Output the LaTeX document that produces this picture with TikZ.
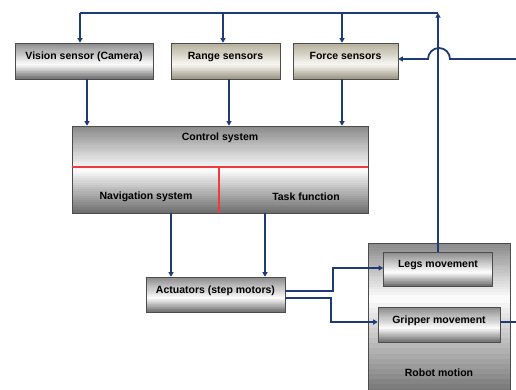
\documentclass[tikz,border=0pt]{standalone}
\usepackage{fontspec}
\setmainfont{Liberation Sans}
\usetikzlibrary{arrows.meta,calc}
\definecolor{wire}{HTML}{1F3A78}
\definecolor{redline}{HTML}{F03A40}
\definecolor{tantop}{HTML}{B3AD98}
\definecolor{tanmid}{HTML}{F6F5F0}
\definecolor{tanbot}{HTML}{9C9682}
\definecolor{greytop}{HTML}{8A8A8A}
\definecolor{greymid}{HTML}{FAFAFA}
\definecolor{greybot}{HTML}{6E6E6E}
\pgfdeclarelayer{background}
\pgfsetlayers{background,main}
% strip shading behind a node: [middle position] name, top, middle, bottom
\newcommand{\stripshade}[5][0.6]{%
  \begin{pgfonlayer}{background}
  \foreach \i in {0,...,19} {
    \pgfmathtruncatemacro\p{\i*100/19}
    \pgfmathsetmacro\ya{#1*\i/20}
    \pgfmathsetmacro\yb{min(1,#1*(\i+1.3)/20)}
    \pgfmathsetmacro\yc{#1+(1-#1)*\i/20}
    \pgfmathsetmacro\yd{min(1,#1+(1-#1)*(\i+1.3)/20)}
    \fill[#4!\p!#3] ($(#2.north west)!\ya!(#2.south west)$) rectangle ($(#2.north east)!\yb!(#2.south east)$);
    \fill[#5!\p!#4] ($(#2.north west)!\yc!(#2.south west)$) rectangle ($(#2.north east)!\yd!(#2.south east)$);
  }
  \end{pgfonlayer}}
\begin{document}
\begin{tikzpicture}[x=1pt, y=-1pt, inner sep=1pt,
    font=\fontsize{10.5}{12}\selectfont\bfseries,
    box/.style={draw=black!70, line width=.6pt, text height=8pt, text depth=11pt},
    arr/.style={draw=wire, line width=1.8pt, -{Triangle[length=4.5pt, width=5pt]}},
    wireline/.style={draw=wire, line width=1.8pt}]
  \useasboundingbox (0,0) rectangle (516,389);
  % sensors
  \node[box, minimum width=138pt, minimum height=36pt] (vision) at (84,61) {Vision sensor (Camera)};
  \node[box, minimum width=109pt, minimum height=36pt] (range) at (225.5,61) {Range sensors};
  \node[box, minimum width=105pt, minimum height=36pt] (force) at (345.5,61) {Force sensors};
  \stripshade{vision}{greytop}{greymid}{greybot}
  \stripshade{range}{tantop}{tanmid}{tanbot}
  \stripshade{force}{tantop}{tanmid}{tanbot}
  % control
  \node[box, minimum width=296pt, minimum height=87pt] (control) at (220,169.5) {};
  \stripshade[0.5]{control}{greytop}{greymid}{greybot}
  \node (ctrltext) at (220,138) {Control system};
  \node (nav) at (146,197) {Navigation system};
  \node (task) at (306,197) {Task function};
  \draw[redline, line width=1.3pt] ([yshift=2.5]control.west) -- ([yshift=2.5]control.east);
  \draw[redline, line width=1.3pt] ([xshift=-1]control.south) -- ([xshift=-1,yshift=2.5]control.center |- control.west);
  % actuators and motion
  \node[box, minimum width=139pt, minimum height=35pt] (act) at (215.5,294.5) {Actuators (step motors)};
  \node[box, minimum width=142pt, minimum height=156pt] (robot) at (439,321) {};
  \stripshade{act}{greytop}{greymid}{greybot}
  \stripshade[0.35]{robot}{greytop}{greymid}{greybot}
  \node (robottext) at (439,373) {Robot motion};
  \node[box, minimum width=109pt, minimum height=34pt] (legs) at (438,269) {Legs movement};
  \node[box, minimum width=122pt, minimum height=35pt] (gripper) at (439,324.5) {Gripper movement};
  \stripshade{legs}{greytop}{greymid}{greybot}
  \stripshade{gripper}{greytop}{greymid}{greybot}
  \coordinate (topcorner) at (438,13);
  \coordinate (forcein) at (516,59);
  \coordinate (gripout) at (516,322);
  % feedback to sensors
  \draw[arr] (legs.north) -- (legs.north |- topcorner);
  \draw[wireline] (topcorner) -- ([xshift=-4]vision.north |- topcorner);
  \draw[arr] ([xshift=-4]vision.north |- topcorner) -- ([xshift=-4]vision.north);
  \draw[arr] ([xshift=-2.5]range.north |- topcorner) -- ([xshift=-2.5]range.north);
  \draw[arr] ([xshift=-3.5]force.north |- topcorner) -- ([xshift=-3.5]force.north);
  \draw[arr] (forcein) -- (450,59) arc[start angle=0, end angle=180, radius=11pt] -- ([yshift=2]force.east);
  % sensors to control
  \draw[arr] ([xshift=3]vision.south) -- ([xshift=3]vision.south |- control.north);
  \draw[arr] ([xshift=3.5]range.south) -- ([xshift=3.5]range.south |- control.north);
  \draw[arr] ([xshift=-3.5]force.south) -- ([xshift=-3.5]force.south |- control.north);
  % control to actuators
  \draw[arr] ([xshift=-49]control.south) -- ([xshift=-49]control.south |- act.north);
  \draw[arr] ([xshift=45]control.south) -- ([xshift=45]control.south |- act.north);
  % actuators to motion
  \draw[arr] ([yshift=3.5]act.east) -- ++(48,0) |- ([yshift=1]legs.west);
  \draw[arr] ([yshift=-3.5]act.east) -- ++(46,0) |- ([yshift=2.5]gripper.west);
  \draw[wireline] ([yshift=2.5]gripper.east) -- ([yshift=2.5]gripper.east -| gripout);
\end{tikzpicture}
\end{document}
